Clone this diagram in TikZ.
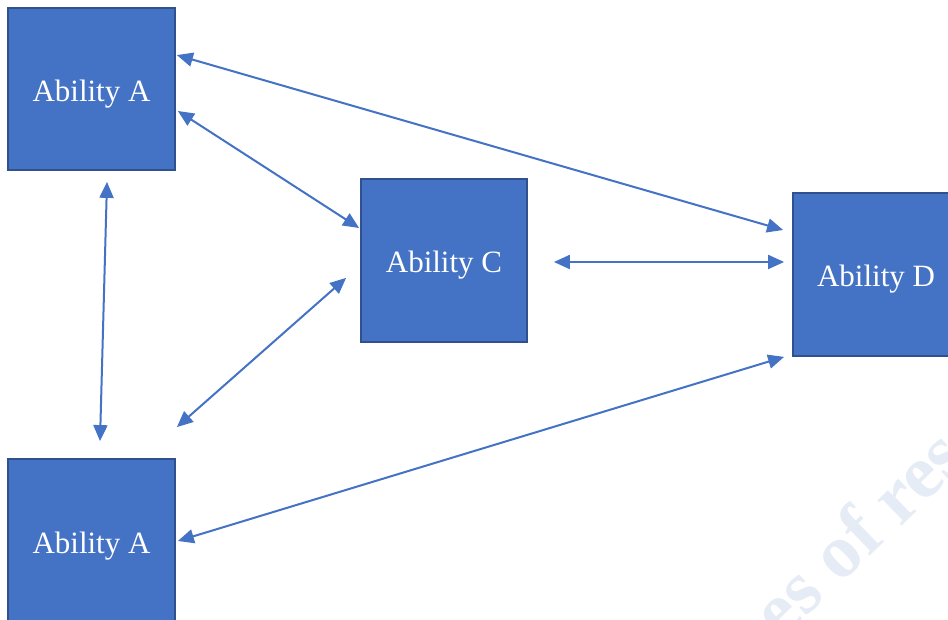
\documentclass[tikz,border=0pt]{standalone}
\usepackage{fontspec}
\setmainfont{Liberation Serif}
\usetikzlibrary{arrows.meta,calc}

\definecolor{boxfill}{HTML}{4472C4}
\definecolor{boxline}{HTML}{2F528F}
\definecolor{linkblue}{HTML}{4472C4}
\definecolor{markblue}{HTML}{E5ECF6}

\tikzset{
  ability/.style={rectangle, draw=boxline, line width=1.8pt, fill=boxfill,
    inner sep=0pt, text=white, text height=25pt, text depth=0pt,
    font=\fontsize{31}{35}\selectfont},
  link/.style={draw=linkblue, line width=2pt,
    {Triangle[length=16pt,width=14pt]}-{Triangle[length=16pt,width=14pt]}}
}

\begin{document}
\begin{tikzpicture}[x=1pt,y=1pt]
  \useasboundingbox (0,0) rectangle (948,620);
  \clip (0,0) rectangle (948,620);
  \fill[white] (0,0) rectangle (948,620);

  % faint background lettering
  \node[text=markblue, rotate=44, font=\bfseries\fontsize{76}{86}\selectfont]
    (mark) at (857,88) {es of res};

  % ability boxes
  \node[ability, minimum width=167pt, minimum height=162pt] (a1) at (91.5,531) {Ability A};
  \node[ability, minimum width=166pt, minimum height=163pt] (c)  at (444,359.5) {Ability C};
  \node[ability, minimum width=166pt, minimum height=163pt] (d)  at (876,345.5) {Ability D};
  \node[ability, minimum width=167pt, minimum height=164pt] (a2) at (91.5,79) {Ability A};

  % two-way links between abilities
  \draw[link] ($(a1.north east)+(1,-48)$) -- ($(d.west)+(-9,44.5)$);
  \draw[link] ($(a1.east)+(2,-22)$) -- ($(c.west)+(-1,32.5)$);
  \draw[link] ($(a1.south)+(15.5,-11)$) -- ($(a2.north)+(8.5,17)$);
  \draw[link] ($(a2.north east)+(1,31)$) -- ($(c.south west)+(-14,65)$);
  \draw[link] ($(c.east)+(26,-1.5)$) -- ($(d.west)+(-8,12.5)$);
  \draw[link] ($(a2.east)+(2,0)$) -- ($(d.south west)+(-8,0)$);
\end{tikzpicture}
\end{document}
